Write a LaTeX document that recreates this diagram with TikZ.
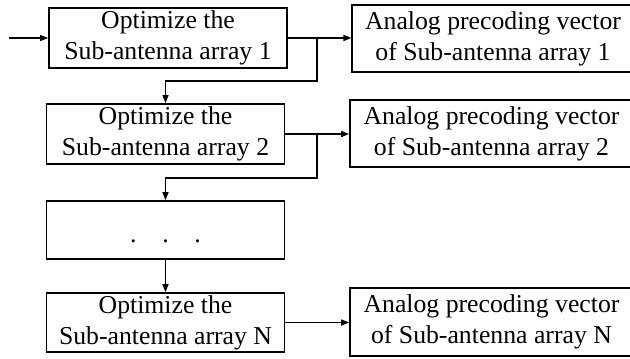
\documentclass[tikz,border=0pt]{standalone}
\usepackage{fontspec}
\setmainfont{Liberation Serif}
\usetikzlibrary{arrows.meta, positioning}

\begin{document}
\begin{tikzpicture}[
  x=0.75pt, y=-0.75pt,
  bloc/.style={draw, line width=1.4pt, minimum width=178.5pt, minimum height=45pt, align=center, inner sep=0pt, font=\fontsize{19.3}{23.2}\selectfont, execute at begin node={\rule{0pt}{19pt}}},
  sortie/.style={bloc, minimum width=211pt, minimum height=50.5pt},
  fil/.style={line width=0.9pt, -{Triangle[length=6pt, width=4.6pt]}}
]
  \useasboundingbox (0,0) rectangle (630,358);
  % Optimisation blocks
  \node[bloc] (opt1) at (168,38) {Optimize the\\ Sub-antenna array 1};
  \node[bloc] (opt2) at (165.5,134) {Optimize the\\ Sub-antenna array 2};
  \node[bloc, minimum height=43.5pt, execute at begin node={\rule{0pt}{14pt}}] (dots) at (165.5,230) {.\quad.\quad.};
  \node[bloc, minimum height=44.25pt] (optN) at (165.5,322.5) {Optimize the\\ Sub-antenna array N};
  % Analog precoding vectors
  \node[sortie] (vec1) at (493,38.5) {Analog precoding vector\\ of Sub-antenna array 1};
  \node[sortie, minimum width=212.25pt] (vec2) at (491.5,133.5) {Analog precoding vector\\ of Sub-antenna array 2};
  \node[sortie, minimum width=212.25pt, minimum height=51pt] (vecN) at (491.5,322) {Analog precoding vector\\ of Sub-antenna array N};
  % Input
  \coordinate (in) at (9,38);
  \draw[fil] (in) -- (opt1.west);
  % Outputs
  \draw[fil] (opt1.east) -- (vec1.west |- opt1.east);
  \draw[fil] (opt2.east) -- (vec2.west |- opt2.east);
  \draw[fil] (optN.east) -- (vecN.west |- optN.east);
  % Chain
  \coordinate (s1) at (317,38);
  \coordinate (s2) at (317,134);
  \draw[fil] (s1) -- (317,81) -| (opt2.north);
  \draw[fil] (s2) -- (317,178) -| (dots.north);
  \draw[fil] (dots.south) -- (optN.north);
\end{tikzpicture}
\end{document}
